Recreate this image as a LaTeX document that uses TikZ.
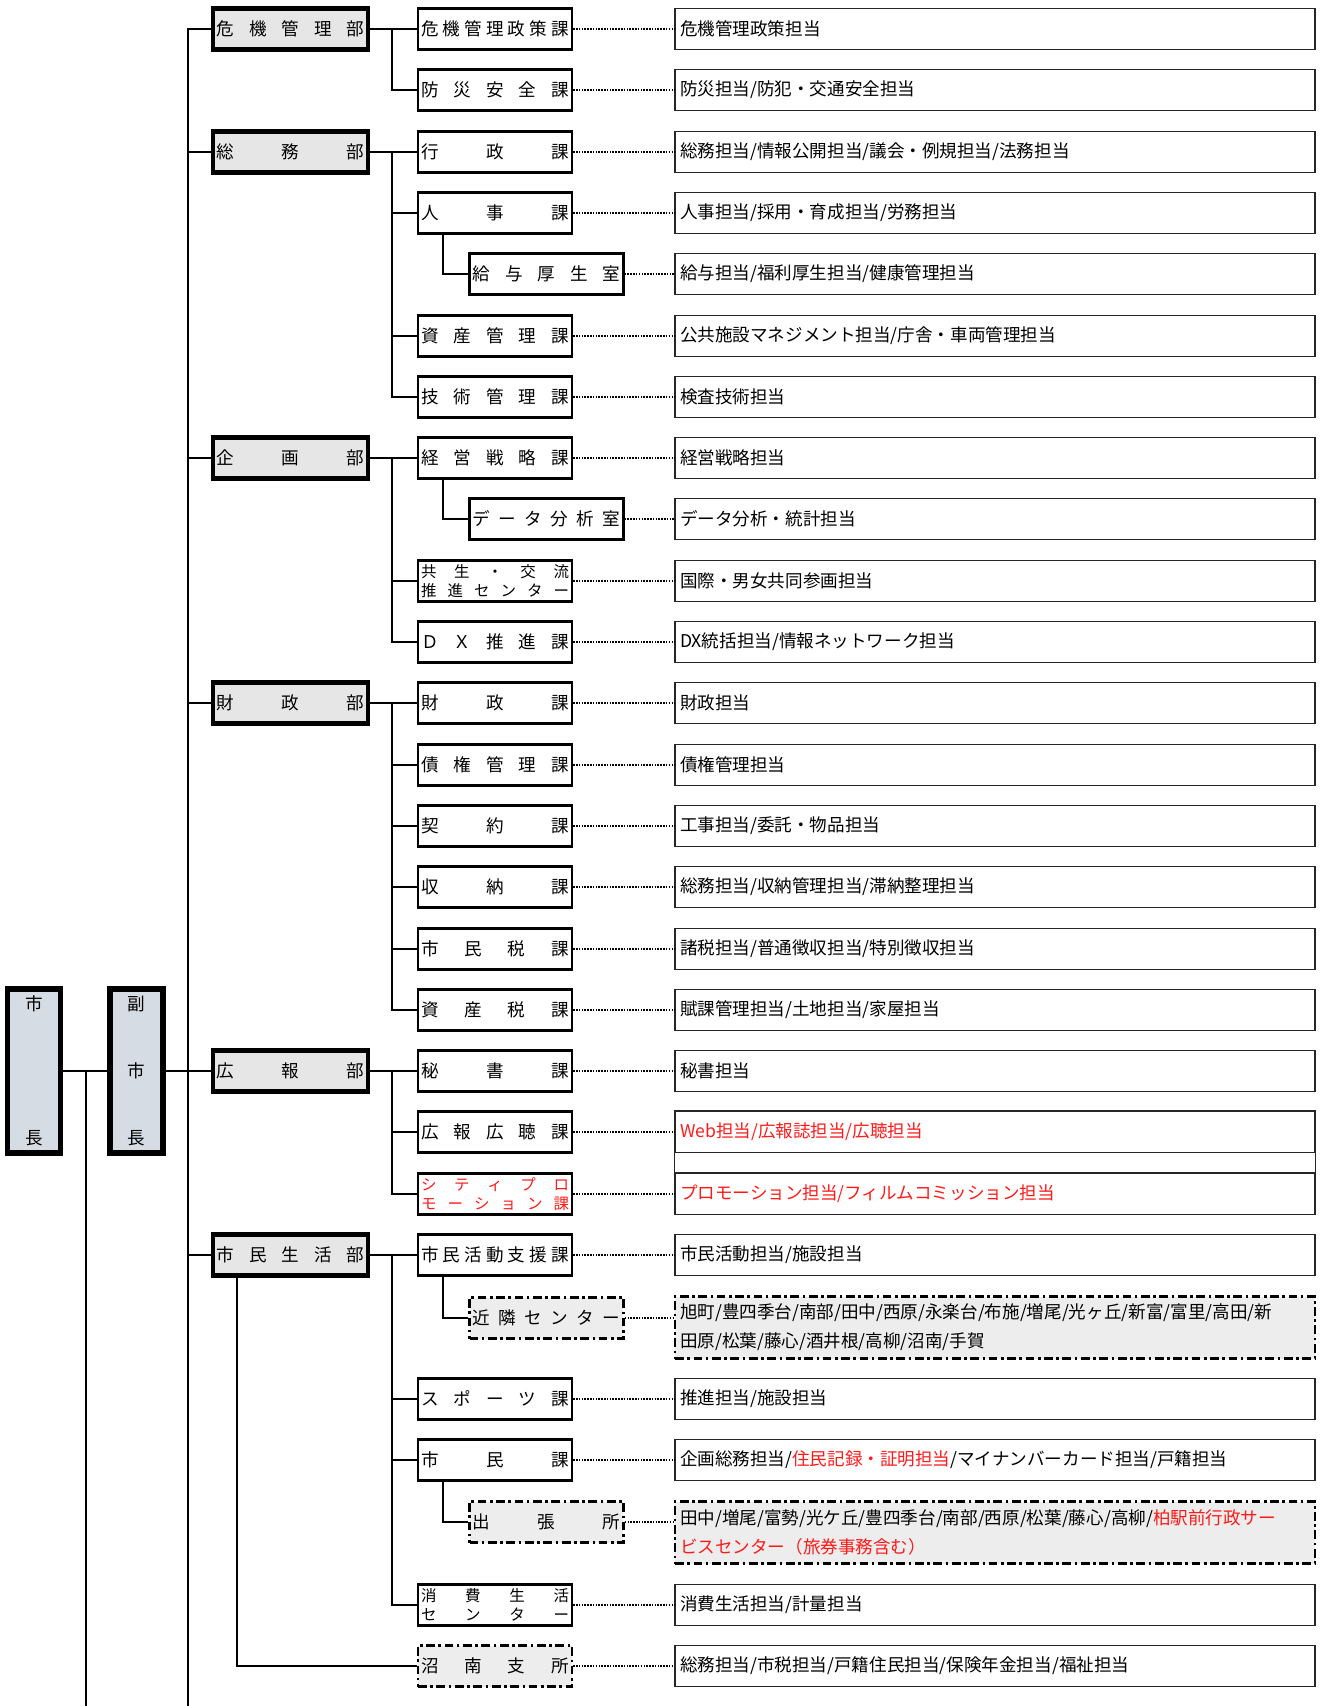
\documentclass[tikz,border=0pt]{standalone}
\usepackage{fontspec}
\setmainfont{Noto Sans CJK JP}
\usepackage{xcolor}
\definecolor{bufill}{HTML}{E6E6E6}
\definecolor{chofill}{HTML}{D6DCE4}
\definecolor{shisetsufill}{HTML}{EDEDED}
\definecolor{akaji}{HTML}{FF1A1A}

\newcommand{\kawide}[1]{\makebox[2.96cm][s]{#1}}

\tikzset{
	cho/.style={draw, line width=3.2pt, fill=chofill, minimum width=1.06cm, minimum height=3.28cm, inner sep=0pt},
	bu/.style={draw, line width=2.6pt, fill=bufill, minimum width=3.1cm, minimum height=0.82cm, inner sep=0pt},
	ka/.style={draw, line width=1.3pt, fill=white, minimum width=3.08cm, minimum height=0.82cm, inner sep=0pt},
	futa/.style={font=\fontsize{8.8}{11}\selectfont, align=center},
	shisetsu/.style={ka, fill=shisetsufill, line width=1.4pt, dash pattern=on 5pt off 2pt on 1.5pt off 2pt},
	tanto/.style={draw=black!85, line width=0.8pt, minimum width=12.8cm, minimum height=0.82cm, inner xsep=0.1cm, inner ysep=0pt, text width=12.6cm, align=left},
	tanto2/.style={tanto, draw=black, fill=shisetsufill, line width=1.4pt, minimum height=1.24cm, dash pattern=on 5pt off 2pt on 1.5pt off 2pt, font=\fontsize{10}{16.4}\selectfont},
	sen/.style={line width=1.2pt},
	tensen/.style={line width=0.9pt, dash pattern=on 0.9pt off 0.7pt}
}

\begin{document}
\begin{tikzpicture}[x=0.02cm, y=-0.02cm, font=\fontsize{10}{12}\selectfont]
	\useasboundingbox (0,0) rectangle (1320,1706);

	\node[cho] (shicho) at (34,1071) {\parbox[c][2.98cm][s]{1cm}{\centering 市\par\vfill 長\par}};
	\node[cho] (fukushicho) at (136.5,1071) {\parbox[c][2.98cm][s]{1cm}{\centering 副\par\vfill 市\par\vfill 長\par}};

	\node[bu] (kikikanri) at (290.5,29) {\kawide{危\hfill 機\hfill 管\hfill 理\hfill 部}};
	\node[bu] (soumu) at (290.5,152) {\kawide{総\hfill 務\hfill 部}};
	\node[bu] (kikaku) at (290.5,458) {\kawide{企\hfill 画\hfill 部}};
	\node[bu] (zaisei) at (290.5,703) {\kawide{財\hfill 政\hfill 部}};
	\node[bu] (kouhou) at (290.5,1071) {\kawide{広\hfill 報\hfill 部}};
	\node[bu] (shimin) at (290.5,1255) {\kawide{市\hfill 民\hfill 生\hfill 活\hfill 部}};

	\node[ka] (kikiseisaku) at (495,29) {\kawide{危\hfill 機\hfill 管\hfill 理\hfill 政\hfill 策\hfill 課}};
	\node[ka] (bousai) at (495,90) {\kawide{防\hfill 災\hfill 安\hfill 全\hfill 課}};
	\node[ka] (gyousei) at (495,152) {\kawide{行\hfill 政\hfill 課}};
	\node[ka] (jinji) at (495,213) {\kawide{人\hfill 事\hfill 課}};
	\node[ka] (kyuyo) at (546.5,274) {\kawide{給\hfill 与\hfill 厚\hfill 生\hfill 室}};
	\node[ka] (shisankanri) at (495,336) {\kawide{資\hfill 産\hfill 管\hfill 理\hfill 課}};
	\node[ka] (gijutsu) at (495,397) {\kawide{技\hfill 術\hfill 管\hfill 理\hfill 課}};
	\node[ka] (keiei) at (495,458) {\kawide{経\hfill 営\hfill 戦\hfill 略\hfill 課}};
	\node[ka] (data) at (546.5,519) {\kawide{デ\hfill ー\hfill タ\hfill 分\hfill 析\hfill 室}};
	\node[ka, futa] (kyousei) at (495,581) {\kawide{共\hfill 生\hfill ・\hfill 交\hfill 流}\\\kawide{推\hfill 進\hfill セ\hfill ン\hfill タ\hfill ー}};
	\node[ka] (dx) at (495,642) {\kawide{Ｄ\hfill Ｘ\hfill 推\hfill 進\hfill 課}};
	\node[ka] (zaiseika) at (495,703) {\kawide{財\hfill 政\hfill 課}};
	\node[ka] (saiken) at (495,765) {\kawide{債\hfill 権\hfill 管\hfill 理\hfill 課}};
	\node[ka] (keiyaku) at (495,826) {\kawide{契\hfill 約\hfill 課}};
	\node[ka] (shuunou) at (495,887) {\kawide{収\hfill 納\hfill 課}};
	\node[ka] (shiminzei) at (495,949) {\kawide{市\hfill 民\hfill 税\hfill 課}};
	\node[ka] (shisanzei) at (495,1010) {\kawide{資\hfill 産\hfill 税\hfill 課}};
	\node[ka] (hisho) at (495,1071) {\kawide{秘\hfill 書\hfill 課}};
	\node[ka] (kouchou) at (495,1132) {\kawide{広\hfill 報\hfill 広\hfill 聴\hfill 課}};
	\node[ka, futa, text=akaji] (citypro) at (495,1194) {\kawide{シ\hfill テ\hfill ィ\hfill プ\hfill ロ}\\\kawide{モ\hfill ー\hfill シ\hfill ョ\hfill ン\hfill 課}};
	\node[ka] (katsudou) at (495,1255) {\kawide{市\hfill 民\hfill 活\hfill 動\hfill 支\hfill 援\hfill 課}};
	\node[shisetsu] (kinrin) at (546.5,1318) {\kawide{近\hfill 隣\hfill セ\hfill ン\hfill タ\hfill ー}};
	\node[ka] (sports) at (495,1399) {\kawide{ス\hfill ポ\hfill ー\hfill ツ\hfill 課}};
	\node[ka] (shiminka) at (495,1460) {\kawide{市\hfill 民\hfill 課}};
	\node[shisetsu] (shutchou) at (546.5,1522) {\kawide{出\hfill 張\hfill 所}};
	\node[ka, futa] (shouhi) at (495,1605) {\kawide{消\hfill 費\hfill 生\hfill 活}\\\kawide{セ\hfill ン\hfill タ\hfill ー}};
	\node[shisetsu] (shounan) at (495,1666) {\kawide{沼\hfill 南\hfill 支\hfill 所}};

	\node[tanto] (kikiseisaku-t) at (995,29) {危機管理政策担当};
	\node[tanto] (bousai-t) at (995,90) {防災担当/防犯・交通安全担当};
	\node[tanto] (gyousei-t) at (995,152) {総務担当/情報公開担当/議会・例規担当/法務担当};
	\node[tanto] (jinji-t) at (995,213) {人事担当/採用・育成担当/労務担当};
	\node[tanto] (kyuyo-t) at (995,274) {給与担当/福利厚生担当/健康管理担当};
	\node[tanto] (shisankanri-t) at (995,336) {公共施設マネジメント担当/庁舎・車両管理担当};
	\node[tanto] (gijutsu-t) at (995,397) {検査技術担当};
	\node[tanto] (keiei-t) at (995,458) {経営戦略担当};
	\node[tanto] (data-t) at (995,519) {データ分析・統計担当};
	\node[tanto] (kyousei-t) at (995,581) {国際・男女共同参画担当};
	\node[tanto] (dx-t) at (995,642) {DX統括担当/情報ネットワーク担当};
	\node[tanto] (zaiseika-t) at (995,703) {財政担当};
	\node[tanto] (saiken-t) at (995,765) {債権管理担当};
	\node[tanto] (keiyaku-t) at (995,826) {工事担当/委託・物品担当};
	\node[tanto] (shuunou-t) at (995,887) {総務担当/収納管理担当/滞納整理担当};
	\node[tanto] (shiminzei-t) at (995,949) {諸税担当/普通徴収担当/特別徴収担当};
	\node[tanto] (shisanzei-t) at (995,1010) {賦課管理担当/土地担当/家屋担当};
	\node[tanto] (hisho-t) at (995,1071) {秘書担当};
	\node[tanto, text=akaji] (kouchou-t) at (995,1132) {Web担当/広報誌担当/広聴担当};
	\node[tanto, text=akaji] (citypro-t) at (995,1194) {プロモーション担当/フィルムコミッション担当};
	\node[tanto] (katsudou-t) at (995,1255) {市民活動担当/施設担当};
	\node[tanto2] (kinrin-t) at (995,1327.5) {旭町/豊四季台/南部/田中/西原/永楽台/布施/増尾/光ヶ丘/新富/富里/高田/新\\田原/松葉/藤心/酒井根/高柳/沼南/手賀};
	\node[tanto] (sports-t) at (995,1399) {推進担当/施設担当};
	\node[tanto] (shiminka-t) at (995,1460) {企画総務担当/\textcolor{akaji}{住民記録・証明担当}/マイナンバーカード担当/戸籍担当};
	\node[tanto2] (shutchou-t) at (995,1532.5) {田中/増尾/富勢/光ケ丘/豊四季台/南部/西原/松葉/藤心/高柳/\textcolor{akaji}{柏駅前行政サー}\\\textcolor{akaji}{ビスセンター（旅券事務含む）}};
	\node[tanto] (shouhi-t) at (995,1605) {消費生活担当/計量担当};
	\node[tanto] (shounan-t) at (995,1666) {総務担当/市税担当/戸籍住民担当/保険年金担当/福祉担当};
	\draw[draw=black!85, line width=0.8pt] (kouchou-t.north west) rectangle (citypro-t.north east);

	\coordinate (shichofoot) at (86,1706);
	\coordinate (trunkfoot) at (188,1706);
	\draw[sen] (shichofoot) |- (shicho.east);
	\draw[sen] (shicho.east) -- (fukushicho.west);
	\draw[sen] (fukushicho.east) -- (kouhou.west);
	\draw[sen] (trunkfoot) |- (kikikanri.west);
	\foreach \b in {soumu,kikaku,zaisei,kouhou,shimin}
		\draw[sen] (\b.west) -- (\b.west -| trunkfoot);

	\draw[sen] (kikikanri.east) -- (kikiseisaku.west);
	\draw[sen] (bousai.west) -- ++(-25,0) |- (kikikanri.east);
	\draw[sen] (soumu.east) -- (gyousei.west);
	\foreach \k in {jinji,shisankanri,gijutsu}
		\draw[sen] (\k.west) -- ++(-25,0) |- (soumu.east);
	\draw[sen] (jinji.south west) ++(26,0) |- (kyuyo.west);
	\draw[sen] (kikaku.east) -- (keiei.west);
	\foreach \k in {kyousei,dx}
		\draw[sen] (\k.west) -- ++(-25,0) |- (kikaku.east);
	\draw[sen] (keiei.south west) ++(26,0) |- (data.west);
	\draw[sen] (zaisei.east) -- (zaiseika.west);
	\foreach \k in {saiken,keiyaku,shuunou,shiminzei,shisanzei}
		\draw[sen] (\k.west) -- ++(-25,0) |- (zaisei.east);
	\draw[sen] (kouhou.east) -- (hisho.west);
	\foreach \k in {kouchou,citypro}
		\draw[sen] (\k.west) -- ++(-25,0) |- (kouhou.east);
	\draw[sen] (shimin.east) -- (katsudou.west);
	\foreach \k in {sports,shiminka,shouhi}
		\draw[sen] (\k.west) -- ++(-25,0) |- (shimin.east);
	\draw[sen] (katsudou.south west) ++(26,0) |- (kinrin.west);
	\draw[sen] (shiminka.south west) ++(26,0) |- (shutchou.west);
	\draw[sen] (shimin.south west) ++(26,0) |- (shounan.west);

	\foreach \k in {kikiseisaku,bousai,gyousei,jinji,kyuyo,shisankanri,gijutsu,keiei,data,kyousei,dx,zaiseika,saiken,keiyaku,shuunou,shiminzei,shisanzei,hisho,kouchou,citypro,katsudou,kinrin,sports,shiminka,shutchou,shouhi,shounan}
		\draw[tensen] (\k.east) -- (\k.east -| \k-t.west);
\end{tikzpicture}
\end{document}
